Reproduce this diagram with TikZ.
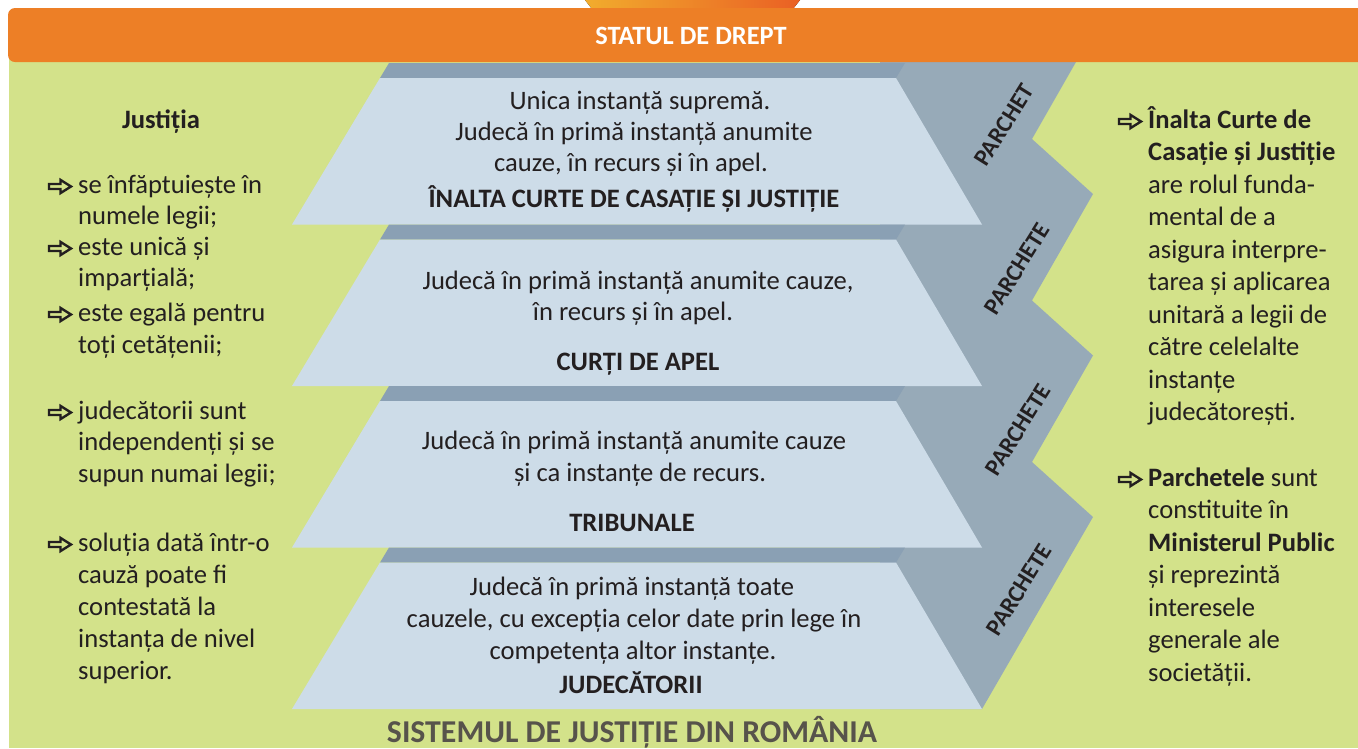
\documentclass[tikz,border=0pt]{standalone}
\usepackage{fontspec}
\setmainfont{Carlito}
\definecolor{barorange}{RGB}{237,127,38}
\definecolor{bggreen}{RGB}{211,226,138}
\definecolor{slab}{RGB}{205,220,232}
\definecolor{band}{RGB}{138,160,180}
\definecolor{parchet}{RGB}{151,170,184}
\definecolor{ink}{RGB}{35,31,32}
\definecolor{titlegray}{RGB}{87,83,75}
\definecolor{sunA}{RGB}{241,172,45}
\definecolor{sunB}{RGB}{234,96,36}
\newcommand\bularrow[2]{\draw[bul,shift={(#1,#2)}] (1,-2.5) -- (12.5,-2.5) -- (12.5,-6.6) -- (23,0) -- (12.5,6.6) -- (12.5,2.5) -- (1,2.5) -- cycle;}
\begin{document}
\begin{tikzpicture}[x=1pt,y=-1pt,
  txt/.style={anchor=base, font=\fontsize{26.6}{31}\selectfont, text=ink, inner sep=0pt},
  btxt/.style={anchor=base, font=\fontsize{26.6}{31}\selectfont\bfseries, text=ink, inner sep=0pt},
  ltxt/.style={anchor=base west, font=\fontsize{26.6}{31}\selectfont, text=ink, inner sep=0pt},
  lbtxt/.style={anchor=base west, font=\fontsize{26.6}{31}\selectfont\bfseries, text=ink, inner sep=0pt},
  bul/.style={draw=ink, line width=2.4pt, line join=miter},
  plab/.style={font=\fontsize{24}{24}\selectfont\bfseries, text=ink, rotate=58, inner sep=0pt, anchor=center}
]
\useasboundingbox (0,0) rectangle (1358,748);
% background
\fill[bggreen] (9,50) rectangle (1358,748);
% parchet zigzag
\fill[parchet] (880,55) -- (1080,55) -- (1032,139) -- (1093,194) -- (1032,300.5) -- (1093,355.5)
  -- (1032,462) -- (1093,517) -- (982,709) -- (880,709) -- cycle;
% tiers
\foreach \i in {0,1,2,3} {
  \pgfmathsetmacro\d{161.5*\i}
  \fill[band] (389,63+\d) -- (905,63+\d) -- (896,78+\d) -- (380,78+\d) -- cycle;
  \fill[slab] (380,78+\d) -- (896,78+\d) -- (982,224.5+\d) -- (292,224.5+\d) -- cycle;
}
% top sun piece
\fill[left color=sunA, right color=sunB] (585,0) -- (800,0) -- (793,9) -- (592,9) -- cycle;
% orange bar
\fill[barorange, rounded corners=7pt] (8,8) rectangle (1390,62);
\node[btxt, text=white, font=\fontsize{26.4}{31}\selectfont\bfseries] (title) at (691,44) {STATUL DE DREPT};

% tier texts
\node[txt] (t1a) at (640,109) {Unica instanță supremă.};
\node[txt] (t1b) at (634,140) {Judecă în primă instanță anumite};
\node[txt] (t1c) at (631,171) {cauze, în recurs și în apel.};
\node[btxt] (t1d) at (634,207) {ÎNALTA CURTE DE CASAȚIE ȘI JUSTIȚIE};
\node[txt] (t2a) at (638,289) {Judecă în primă instanță anumite cauze,};
\node[txt] (t2b) at (633,320) {în recurs și în apel.};
\node[btxt] (t2c) at (638,370) {CURȚI DE APEL};
\node[txt] (t3a) at (634,449) {Judecă în primă instanță anumite cauze};
\node[txt] (t3b) at (640,481) {și ca instanțe de recurs.};
\node[btxt] (t3c) at (632,531) {TRIBUNALE};
\node[txt] (t4a) at (632,595) {Judecă în primă instanță toate};
\node[txt] (t4b) at (634,627) {cauzele, cu excepția celor date prin lege în};
\node[txt] (t4c) at (633,659) {competența altor instanțe.};
\node[btxt] (t4d) at (631,693) {JUDECĂTORII};

% parchet labels
\node[plab] (p1) at (1004,125) {PARCHET};
\node[plab] (p2) at (1017,269) {PARCHETE};
\node[plab] (p3) at (1018,430) {PARCHETE};
\node[plab] (p4) at (1019,590) {PARCHETE};

% bottom title
\node[anchor=base, font=\fontsize{31.8}{32}\selectfont\bfseries, text=titlegray, inner sep=0pt] (sys) at (632,742.5) {SISTEMUL DE JUSTIȚIE DIN ROMÂNIA};

% left list
\node[btxt] (just) at (161,128) {Justiția};
\bularrow{48}{186.5}
\node[ltxt] (l1a) at (78,193) {se înfăptuiește în};
\node[ltxt] (l1b) at (78,224) {numele legii;};
\bularrow{48}{248.5}
\node[ltxt] (l2a) at (78,255) {este unică și};
\node[ltxt] (l2b) at (78,286) {imparțială;};
\bularrow{48}{314.5}
\node[ltxt] (l3a) at (78,321) {este egală pentru};
\node[ltxt] (l3b) at (78,353) {toți cetățenii;};
\bularrow{48}{412.5}
\node[ltxt] (l4a) at (78,419) {judecătorii sunt};
\node[ltxt] (l4b) at (78,450) {independenți și se};
\node[ltxt] (l4c) at (78,482) {supun numai legii;};
\bularrow{48}{544.5}
\node[ltxt] (l5a) at (78,551) {soluția dată într-o};
\node[ltxt] (l5b) at (78,583) {cauză poate fi};
\node[ltxt] (l5c) at (78,615) {contestată la};
\node[ltxt] (l5d) at (78,647) {instanța de nivel};
\node[ltxt] (l5e) at (78,679) {superior.};

% right list
\bularrow{1118}{121.5}
\node[lbtxt] (r1a) at (1148,128) {Înalta Curte de};
\node[lbtxt] (r1b) at (1148,160.5) {Casație și Justiție};
\node[ltxt] (r1c) at (1148,193) {are rolul funda-};
\node[ltxt] (r1d) at (1148,225.5) {mental de a};
\node[ltxt] (r1e) at (1148,258) {asigura interpre-};
\node[ltxt] (r1f) at (1148,290.5) {tarea și aplicarea};
\node[ltxt] (r1g) at (1148,323) {unitară a legii de};
\node[ltxt] (r1h) at (1148,355.5) {către celelalte};
\node[ltxt] (r1i) at (1148,388) {instanțe};
\node[ltxt] (r1j) at (1148,420.5) {judecătorești.};
\bularrow{1118}{479.5}
\node[ltxt] (r2a) at (1148,486) {\textbf{Parchetele} sunt};
\node[ltxt] (r2b) at (1148,518.5) {constituite în};
\node[lbtxt] (r2c) at (1148,551) {Ministerul Public};
\node[ltxt] (r2d) at (1148,583.5) {și reprezintă};
\node[ltxt] (r2e) at (1148,616) {interesele};
\node[ltxt] (r2f) at (1148,648.5) {generale ale};
\node[ltxt] (r2g) at (1148,681) {societății.};
\end{tikzpicture}
\end{document}
